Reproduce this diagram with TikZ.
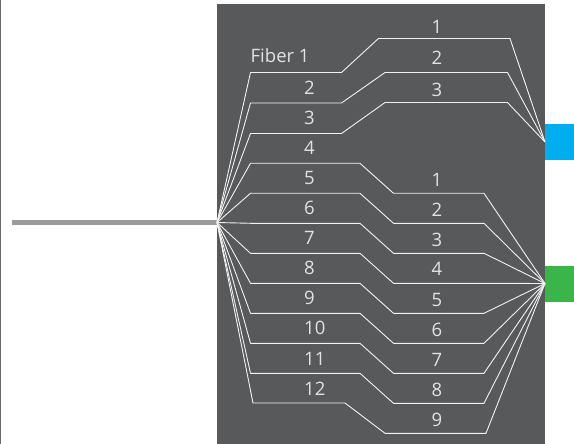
\documentclass[tikz,border=0pt]{standalone}
\usepackage{fontspec}
\setmainfont{Open Sans}
\definecolor{panel}{HTML}{58595B}
\definecolor{cablegray}{HTML}{9B9B9B}
\definecolor{fiberwhite}{HTML}{F2F2F2}
\definecolor{labelgray}{HTML}{E2E2E2}
\definecolor{connblue}{HTML}{00ADEE}
\definecolor{conngreen}{HTML}{3AB54A}
\tikzset{
  fiber/.style    = {draw=fiberwhite, line width=0.9pt, line join=round},
  cable/.style    = {draw=cablegray, line width=5pt},
  conn/.style     = {shape=rectangle, minimum width=29pt, minimum height=36pt,
                     inner sep=0pt, anchor=west},
  fiblabel/.style = {text=labelgray, inner sep=0pt,
                     font=\fontsize{18.5}{21}\selectfont}
}
\begin{document}
\begin{tikzpicture}[x=1pt, y=-1pt]
  \useasboundingbox (0,0) rectangle (574,444);
  \draw[draw=panel!90, line width=1pt] (0.5,0) -- (0.5,444);
  \fill[panel] (217,4) rectangle (545,444);

  \coordinate (fan) at (217,222.5);
  \coordinate (cableend) at (12,222.5);
  \node[conn, fill=connblue]  (blue)  at (545,142) {};
  \node[conn, fill=conngreen] (green) at (545,283.5) {};

  \draw[cable] (cableend) -- (fan);

  % fibers 1-3 to the blue connector
  \foreach \yl/\xd/\yr/\xr in {72.5/378.5/38.5/510, 103/385/72.5/507.5, 133.5/385/102.5/507.5}
    \draw[fiber] (fan) -- (250.5,\yl) -- (341.5,\yl) -- (\xd,\yr) -- (\xr,\yr) -- (blue.west);

  % fibers 4-11 to the green connector
  \foreach \k in {0,...,7}
    \draw[fiber] (fan) -- (250.5,163.3+30*\k) -- (360,163.3+30*\k)
      -- (393.5,193.3+30*\k) -- (484,193.3+30*\k) -- (green.west);
  \draw[fiber] (fan) -- (253,403) -- (345,403) -- (385,433.3) -- (486,433.3) -- (green.west);

  % labels, left side
  \node[fiblabel, anchor=base west] (f1) at (250.5,63) {Fiber 1};
  \foreach \n in {2,...,12}
    \node[fiblabel, anchor=base west] (f\n) at (304,64+30.1*\n-30.1) {\n};

  % labels, blue side
  \foreach \n/\yb in {1/33.5, 2/64.5, 3/96.5}
    \node[fiblabel, anchor=base] (b\n) at (437,\yb) {\n};

  % labels, green side
  \foreach \n in {1,...,9}
    \node[fiblabel, anchor=base] (g\n) at (437,156+30*\n) {\n};
\end{tikzpicture}
\end{document}
